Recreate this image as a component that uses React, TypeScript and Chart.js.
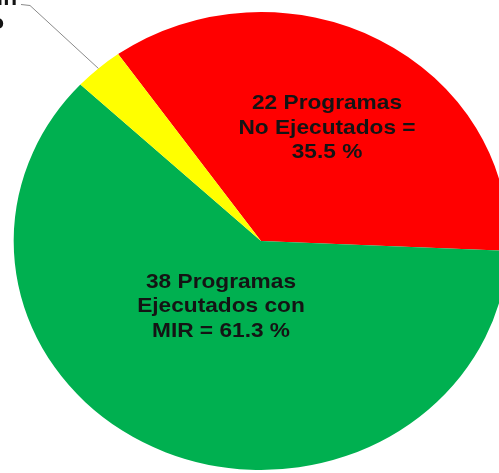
import React, { useEffect, useRef } from "react";
import { Chart, registerables } from "chart.js";

Chart.register(...registerables);

// ---- data ----
const categories = ["No Ejecutados", "Ejecutados con MIR", "Sin MIR"];
const programCounts = [22, 38, 2];
const percentLabels = ["35.5 %", "61.3 %", "3.2 %"];
const sliceColors = ["#FF0000", "#00B050", "#FFFF00"];
const redLabel = [`${programCounts[0]} Programas`, "No Ejecutados =", percentLabels[0]];
const greenLabel = [`${programCounts[1]} Programas`, "Ejecutados con", `MIR = ${percentLabels[1]}`];
const yellowLabel = [`${programCounts[2]} Programas sin`, "MIR en proceso"];

const STRETCH_X = 1.08;
const FONT = "bold 21px 'Liberation Sans', Arial, sans-serif";

const stretchPlugin = {
  id: "stretch",
  beforeDatasetsDraw(chart: any) {
    const arc = chart.getDatasetMeta(0).data[0];
    if (!arc) return;
    const ctx = chart.ctx;
    ctx.save();
    ctx.translate(arc.x, arc.y);
    ctx.scale(STRETCH_X, 1);
    ctx.translate(-arc.x, -arc.y);
  },
  afterDatasetsDraw(chart: any) {
    chart.ctx.restore();
  },
};

function drawBlock(ctx: CanvasRenderingContext2D, lines: string[], x: number, y: number) {
  const lh = 24.5;
  ctx.save();
  ctx.translate(x, y);
  ctx.scale(STRETCH_X, 1);
  ctx.font = FONT;
  ctx.fillStyle = "#141414";
  ctx.textAlign = "center";
  ctx.textBaseline = "middle";
  const top = -((lines.length - 1) * lh) / 2;
  lines.forEach((l, i) => ctx.fillText(l, 0, top + i * lh));
  ctx.restore();
}

const labelPlugin = {
  id: "sliceLabels",
  afterDraw(chart: any) {
    const meta = chart.getDatasetMeta(0);
    const arcs = meta.data;
    if (!arcs.length) return;
    const ctx: CanvasRenderingContext2D = chart.ctx;
    const cx = arcs[0].x;
    const cy = arcs[0].y;
    const r = arcs[0].outerRadius;

    drawBlock(ctx, redLabel, cx + 66, cy - 113);
    drawBlock(ctx, greenLabel, cx - 40, cy + 65.5);

    // leader line to yellow slice
    const y = arcs[2];
    const mid = (y.startAngle + y.endAngle) / 2;
    const px = cx + Math.cos(mid) * r * STRETCH_X;
    const py = cy + Math.sin(mid) * r;
    ctx.save();
    ctx.strokeStyle = "#8a8a8a";
    ctx.lineWidth = 1;
    ctx.beginPath();
    ctx.moveTo(21, 4.5);
    ctx.lineTo(30, 5.5);
    ctx.lineTo(px, py);
    ctx.stroke();

    ctx.font = FONT;
    ctx.fillStyle = "#141414";
    ctx.textAlign = "right";
    ctx.textBaseline = "alphabetic";
    ctx.save();
    ctx.translate(17, 5);
    ctx.scale(STRETCH_X, 1);
    ctx.fillText(yellowLabel[0], 0, 0);
    ctx.restore();
    ctx.save();
    ctx.translate(4, 29);
    ctx.scale(STRETCH_X, 1);
    ctx.fillText(yellowLabel[1], 0, 0);
    ctx.restore();
    ctx.restore();
  },
};

export default function App() {
  const ref = useRef<HTMLCanvasElement | null>(null);
  useEffect(() => {
    if (!ref.current) return;
    const chart = new Chart(ref.current, {
      type: "pie",
      data: {
        labels: categories,
        datasets: [
          {
            data: programCounts,
            backgroundColor: sliceColors,
            borderWidth: 0,
            clip: false as any,
          },
        ],
      },
      options: {
        responsive: false,
        animation: false,
        rotation: -35.3,
        layout: { padding: { left: 23, right: 0, top: 12, bottom: 3 } },
        plugins: {
          legend: { display: false },
          tooltip: { enabled: false },
        },
      },
      plugins: [stretchPlugin, labelPlugin],
    });
    return () => chart.destroy();
  }, []);
  return (
    <div style={{ position: "fixed", left: 0, top: 0, width: 499, height: 473, background: "#fff" }}>
      <canvas ref={ref} width={499} height={473} />
    </div>
  );
}
